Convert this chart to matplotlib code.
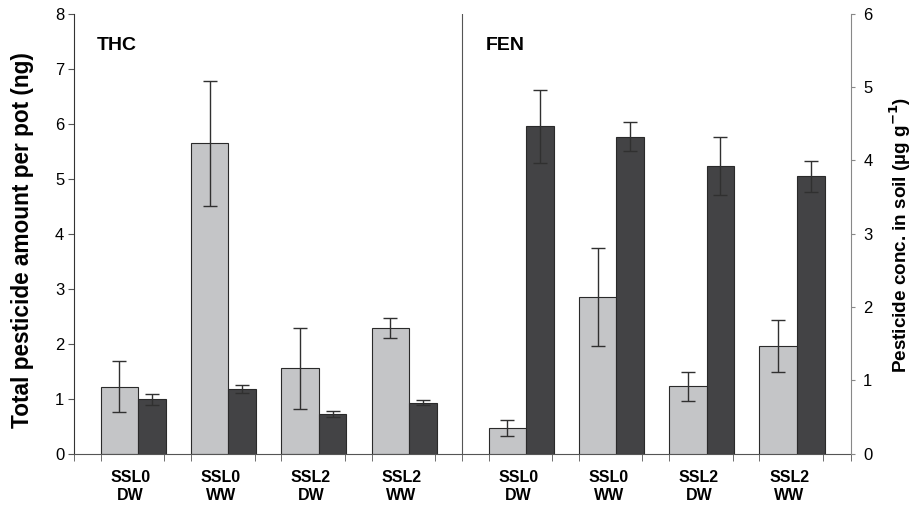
import matplotlib

matplotlib.use("Agg")
import matplotlib.pyplot as plt
import numpy as np

plt.rcParams["font.family"] = ["Liberation Sans", "DejaVu Sans"]

groups = ["SSL0\nDW", "SSL0\nWW", "SSL2\nDW", "SSL2\nWW"]

# THC panel, left axis (ng per pot)
thc_light = [1.22, 5.64, 1.55, 2.29]
thc_light_err = [0.47, 1.13, 0.74, 0.185]
thc_dark = [0.99, 1.17, 0.72, 0.93]
thc_dark_err = [0.10, 0.07, 0.05, 0.05]

# FEN panel, right axis (ug/g soil)
fen_light = [0.35, 2.14, 0.92, 1.47]
fen_light_err = [0.11, 0.67, 0.20, 0.355]
fen_dark = [4.46, 4.32, 3.92, 3.78]
fen_dark_err = [0.50, 0.195, 0.40, 0.21]

LIGHT, DARK = "#c4c5c7", "#434345"
EDGE, ERR = "#2a2a2a", "#303030"
W_LIGHT, W_DARK = 0.415, 0.305

fig = plt.figure(figsize=(9.17, 5.15), dpi=100)
ax = fig.add_axes([74 / 917, 61.3 / 515, 776.7 / 917, 440.2 / 515])
ax2 = ax.twinx()

thc_start = np.arange(4) + 0.295
fen_start = np.arange(4) + 4.59
err_kw = dict(ecolor=ERR, elinewidth=1.0, capsize=5, capthick=1.0)


def draw(a, start, light, light_err, dark, dark_err):
    a.bar(start, light, W_LIGHT, align="edge", color=LIGHT, edgecolor=EDGE, lw=0.8)
    a.bar(start + W_LIGHT, dark, W_DARK, align="edge", color=DARK, edgecolor=EDGE, lw=0.8)
    a.errorbar(start + W_LIGHT / 2, light, yerr=light_err, fmt="none", **err_kw)
    a.errorbar(start + W_LIGHT + W_DARK / 2, dark, yerr=dark_err, fmt="none", **err_kw)


draw(ax, thc_start, thc_light, thc_light_err, thc_dark, thc_dark_err)
draw(ax2, fen_start, fen_light, fen_light_err, fen_dark, fen_dark_err)

ax.set_xlim(0, 8.60)
ax.set_ylim(0, 8)
ax2.set_ylim(0, 6)
ax.set_yticks(range(0, 9))
ax2.set_yticks(range(0, 7))

divider = 4.293
ax.axvline(divider, color="#555555", lw=0.8)

centers = np.concatenate([thc_start, fen_start]) + 0.33
ax.set_xticks(centers)
ax.set_xticklabels(groups * 2, fontweight="bold", fontsize=11.5, linespacing=1.22)
ax.tick_params(axis="x", length=0, pad=12)
minor = np.concatenate([np.arange(5), thc_start, divider + np.arange(5), fen_start, [8.60]])
ax.set_xticks(minor, minor=True)
ax.tick_params(axis="x", which="minor", length=5, color="#555555", direction="out")

ax.tick_params(axis="y", labelsize=12, length=4, color="#555555", pad=3)
ax2.tick_params(axis="y", labelsize=12, length=3, color="#888888", pad=6)

ax.spines["top"].set_visible(False)
ax2.spines["top"].set_visible(False)
ax.spines["right"].set_visible(False)
ax2.spines["left"].set_visible(False)
ax2.spines["bottom"].set_visible(False)
ax.spines["left"].set_color("#333333")
ax.spines["bottom"].set_color("#555555")
ax2.spines["right"].set_color("#888888")

# axis titles placed by their centres
fig.text(23 / 917, 1 - 240.5 / 515, "Total pesticide amount per pot (ng)",
         rotation=90, ha="center", va="center", fontsize=16.3, fontweight="bold")
fig.text(900.5 / 917, 1 - 235 / 515, "Pesticide conc. in soil (µg g$^{\\mathbf{-1}}$)",
         rotation=90, ha="center", va="center", fontsize=13.6, fontweight="bold")

ax.text(0.25, 7.42, "THC", fontsize=14, fontweight="bold", va="center")
ax.text(4.56, 7.42, "FEN", fontsize=14, fontweight="bold", va="center")

fig.savefig("out.png", dpi=100)
